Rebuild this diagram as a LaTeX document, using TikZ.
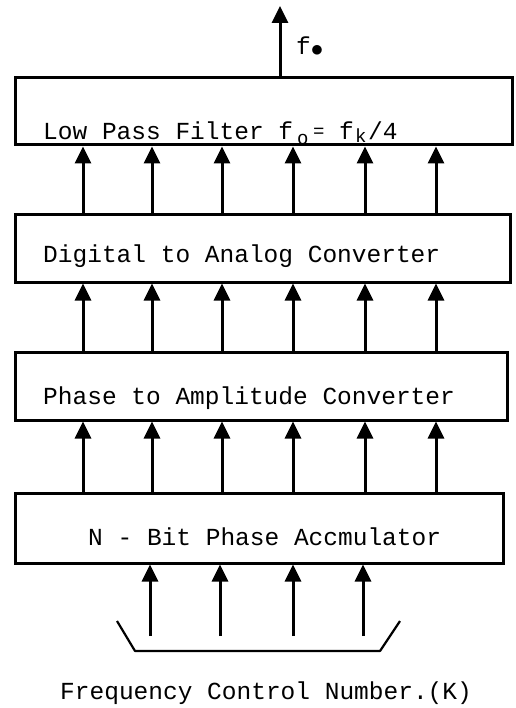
\documentclass[tikz,border=0pt]{standalone}
\usepackage{fontspec}
\setmonofont{Liberation Mono}
\usetikzlibrary{arrows.meta}
\tikzset{
  blk/.style={draw, line width=3pt, rectangle, inner sep=0pt},
  lbl/.style={font=\ttfamily\fontsize{24.5}{28}\selectfont, inner sep=0pt, anchor=base west},
  sublbl/.style={font=\ttfamily\fontsize{19}{20}\selectfont, inner sep=0pt, anchor=base west},
  bus/.style={line width=3pt, -{Triangle[width=16pt,length=17pt]}},
  brk/.style={line width=2.2pt, line join=round}
}
\begin{document}
\begin{tikzpicture}[x=1pt,y=-1pt]
\useasboundingbox (0,0) rectangle (515,708);
% boxes
\node[blk, minimum width=497pt, minimum height=67pt] (lpf) at (263.5,111.5) {};
\node[blk, minimum width=495pt, minimum height=67pt] (dac) at (262.5,248.5) {};
\node[blk, minimum width=492pt, minimum height=68pt] (pac) at (261,386) {};
\node[blk, minimum width=488pt, minimum height=70pt] (acc) at (259,528) {};
% labels
\node[lbl] (tlpf) at (43,140) {Low Pass Filter f};
\node[sublbl] (tlo) at (297,145) {o};
\node[sublbl] (tleq) at (313,138) {=};
\node[lbl] (tlf) at (339,140) {f};
\node[sublbl] (tlk) at (355,143) {k};
\node[lbl] (tl4) at (368,140) {/4};
\node[lbl] (tdac) at (43,262) {Digital to Analog Converter};
\node[lbl] (tpac) at (43,404) {Phase to Amplitude Converter};
\node[lbl] (tacc) at (88,545) {N - Bit Phase Accmulator};
\node[lbl] (tfcn) at (60,699) {Frequency Control Number.(K)};
\node[lbl] (tfo) at (296,55) {f\raisebox{-2pt}{$\bullet$}};
% output
\coordinate (out) at (280,6);
\draw[bus] (lpf.north -| out) -- (out);
% buses between blocks
\foreach \x in {83,152,222,293,365,436}{
  \coordinate (c) at (\x,0);
  \draw[bus] (dac.north -| c) -- (lpf.south -| c);
  \draw[bus] (pac.north -| c) -- (dac.south -| c);
  \draw[bus] (acc.north -| c) -- (pac.south -| c);
}
% inputs
\foreach \x in {150,220,293,363}{
  \coordinate (i) at (\x,636);
  \draw[bus] (i) -- (acc.south -| i);
}
% bracket
\coordinate (b1) at (117,621);
\coordinate (b2) at (135,651);
\coordinate (b3) at (380,651);
\coordinate (b4) at (400,621);
\draw[brk] (b1) -- (b2) -- (b3) -- (b4);
\end{tikzpicture}
\end{document}
